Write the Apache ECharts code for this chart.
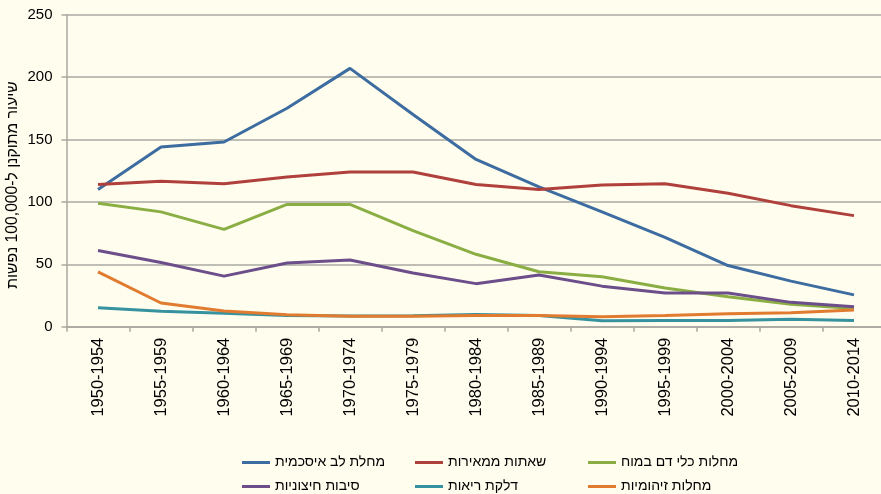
<!DOCTYPE html>
<html>
<head>
<meta charset="utf-8">
<script src="https://cdn.jsdelivr.net/npm/echarts@6/dist/echarts.min.js"></script>
<style>
  html, body { margin: 0; padding: 0; background: #FFFDEE; }
  #chart { width: 881px; height: 494px; }
</style>
</head>
<body>
<div id="chart"></div>
<script>
// תקופות
const periods = ['1950-1954', '1955-1959', '1960-1964', '1965-1969', '1970-1974', '1975-1979',
  '1980-1984', '1985-1989', '1990-1994', '1995-1999', '2000-2004', '2005-2009', '2010-2014'];

const heart = [110, 144, 148, 175, 207, 170, 134, 112, 92, 71.5, 49, 36.5, 25.5];
const cancer = [114, 116.5, 114.5, 120, 124, 124, 114, 110, 113.5, 114.5, 107, 97, 89];
const stroke = [99, 92, 78, 98, 98, 77, 58, 44, 40, 31, 24, 18, 14.5];
const external = [61, 51.5, 40.5, 51, 53.5, 43, 34.5, 41.5, 32.5, 27, 27, 19.5, 16];
const pneumonia = [15.2, 12.3, 10.7, 9, 8.6, 8.8, 9.8, 9, 4.8, 5, 5, 6, 5];
const infectious = [44, 19, 12.6, 9.6, 8.3, 8.4, 9, 9, 8, 9, 10.4, 11.2, 13.4];

const names = ['מחלת לב איסכמית', 'שאתות ממאירות', 'מחלות כלי דם במוח',
  'סיבות חיצוניות', 'דלקת ריאות', 'מחלות זיהומיות'];
const colors = ['#3D6CA0', '#B0403C', '#8AAE44', '#6B4E8A', '#35929E', '#E07B30'];
const yTitle = 'שיעור מתוקנן ל-100,000 נפשות';

const font = '"Liberation Sans", Arial, sans-serif';
const seriesData = [heart, cancer, stroke, external, pneumonia, infectious];

var myChart = echarts.init(document.getElementById('chart'));
var option = {
  backgroundColor: '#FFFDEE',
  color: colors,
  textStyle: { fontFamily: font, color: '#000' },
  animation: false,
  grid: { left: 66.5, width: 819, top: 14.7, bottom: 167.3, outerBoundsMode: 'none', containLabel: false },
  legend: {
    left: 242,
    top: 455.5,
    padding: 0,
    width: 540,
    icon: 'rect',
    itemWidth: 28,
    itemHeight: 3,
    itemGap: 10,
    data: names,
    textStyle: { fontSize: 14, width: 130, lineHeight: 13, fontFamily: font, color: '#000' }
  },
  graphic: [{
    type: 'text',
    x: 13,
    y: 185,
    rotation: Math.PI / 2,
    style: {
      text: yTitle,
      font: '15.7px ' + font,
      fill: '#000',
      align: 'center',
      verticalAlign: 'middle'
    }
  }],
  xAxis: {
    type: 'category',
    data: periods,
    boundaryGap: true,
    axisLine: { lineStyle: { color: '#A8A8A0', width: 1.5 } },
    axisTick: { show: true, length: 5, lineStyle: { color: '#A8A8A0', width: 1.5 } },
    axisLabel: { rotate: 90, fontSize: 16.5, margin: 11, color: '#000', interval: 0 }
  },
  yAxis: {
    type: 'value',
    min: 0,
    max: 250,
    interval: 50,
    axisLine: { show: true, lineStyle: { color: '#A8A8A0', width: 1.5 } },
    axisTick: { show: true, length: 5, lineStyle: { color: '#A8A8A0', width: 1.5 } },
    splitLine: { lineStyle: { color: '#A8A8A0', width: 1.5 } },
    axisLabel: { fontSize: 15, margin: 14, color: '#000' }
  },
  series: names.map(function (n, i) {
    return {
      name: n,
      type: 'line',
      data: seriesData[i],
      symbol: 'none',
      lineStyle: { width: 3 }
    };
  })
};
option && myChart.setOption(option);
</script>
</body>
</html>
